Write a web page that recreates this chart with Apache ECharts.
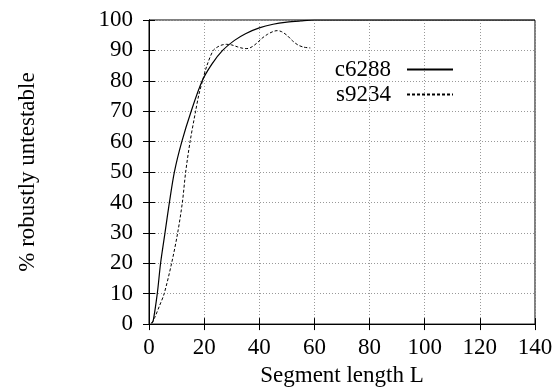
<!DOCTYPE html>
<html><head><meta charset="utf-8">
<script src="https://cdn.jsdelivr.net/npm/echarts@6/dist/echarts.min.js"></script>
<style>html,body{margin:0;padding:0;background:#fff}#c{width:556px;height:392px}</style>
</head><body><div id="c"></div>
<script>
var xTicks = [0,20,40,60,80,100,120,140];
var yTicks = [0,10,20,30,40,50,60,70,80,90,100];
var c6288X = [0.9,1.5,3.0,4.2,5.8,7.4,9.2,11.9,15.3,19.3,22.8,26.7,31,35,40,45,50,55,60,70,80,100,120,140];
var c6288Y = [0.3,1.0,10,20,30,40,50,60,70,80,85.5,90,93.3,95.5,97.4,98.6,99.3,99.7,100,100,100,100,100,100];
var s9234X = [1.0,2.1,3.8,5.5,8.2,10.4,12.1,13.3,14.9,16.9,18.1,19.4,21,23.3,25,26.5,28.1,30,32,34,35.5,37,39,41,43,45,46.5,48,50,52,54,56,58.5];
var s9234Y = [0.3,2.2,6,10,20,30,40,50,60,70,75.5,80,85,90,91.2,91.8,92,91.8,91.2,90.7,90.6,91,92.3,94,95.3,96.2,96.5,96.2,95,93.2,91.8,91.1,90.8];
function zip(a,b){return a.map(function(v,i){return [v,b[i]];});}
var FONT = 'Liberation Serif';
var FS = 23;
var chart = echarts.init(document.getElementById('c'), null, {renderer:'canvas'});
var grid = {left:149, right:21, top:20, bottom:62, show:true, borderColor:'#000', borderWidth:1};
var split = {show:true, lineStyle:{color:'#999', type:[1,2], width:1}};
chart.setOption({
  animation:false,
  backgroundColor:'#fff',
  grid: grid,
  legend: {
    orient:'vertical', right:97, top:53, align:'right', itemWidth:46, itemHeight:14, itemGap:2,
    itemStyle:{opacity:0, borderWidth:0},
    textStyle:{fontFamily:FONT, fontSize:FS, color:'#000', padding:[0,11,0,0]},
    data:['c6288','s9234']
  },
  xAxis: [{
    type:'value', min:0, max:140, interval:20,
    name:'Segment length L', nameLocation:'middle', nameGap:37,
    nameTextStyle:{fontFamily:FONT, fontSize:FS, color:'#000'},
    axisLine:{show:true, onZero:false, lineStyle:{color:'#000'}},
    axisTick:{inside:true, length:6, lineStyle:{color:'#000'}},
    axisLabel:{fontFamily:FONT, fontSize:FS, color:'#000', margin:12},
    splitLine: split
  },{
    type:'value', position:'top', min:0, max:140, interval:20,
    axisLine:{show:true, lineStyle:{color:'#000'}},
    axisTick:{inside:true, length:6, lineStyle:{color:'#000'}},
    axisLabel:{show:false}, splitLine:{show:false}
  }],
  yAxis: [{
    type:'value', min:0, max:100, interval:10,
    name:'% robustly untestable', nameLocation:'middle', nameGap:110,
    nameTextStyle:{fontFamily:FONT, fontSize:FS, color:'#000'},
    axisLine:{show:true, onZero:false, lineStyle:{color:'#000'}},
    axisTick:{inside:true, length:6, lineStyle:{color:'#000'}},
    axisLabel:{fontFamily:FONT, fontSize:FS, color:'#000', margin:16},
    splitLine: split
  },{
    type:'value', position:'right', min:0, max:100, interval:10,
    axisLine:{show:true, lineStyle:{color:'#000'}},
    axisTick:{inside:true, length:6, lineStyle:{color:'#000'}},
    axisLabel:{show:false}, splitLine:{show:false}
  }],
  series: [{
    name:'c6288', type:'line', symbol:'none', smooth:0.3, data:zip(c6288X,c6288Y),
    lineStyle:{color:'#000', width:1.2, type:'solid'}, itemStyle:{color:'#000'}
  },{
    name:'s9234', type:'line', symbol:'none', smooth:0.3, data:zip(s9234X,s9234Y),
    lineStyle:{color:'#000', width:1, type:[3,2]}, itemStyle:{color:'#000'}
  }]
});
</script></body></html>
